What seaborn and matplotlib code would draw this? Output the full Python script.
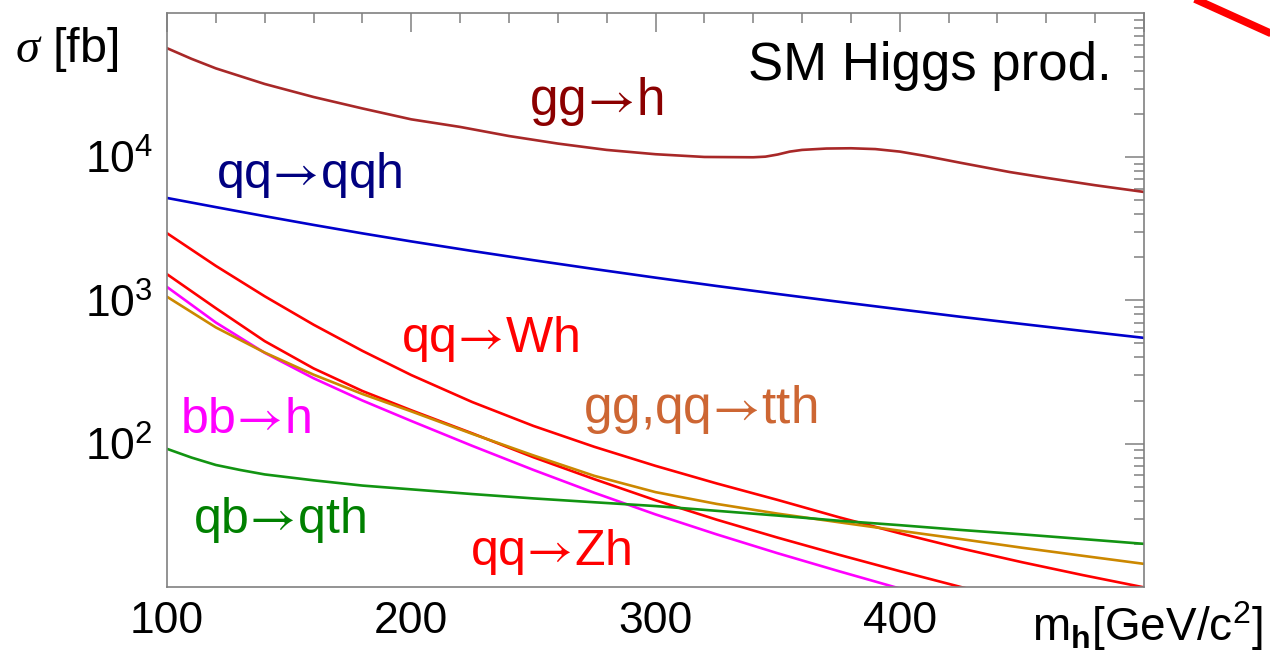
import numpy as np
import pandas as pd
import matplotlib
matplotlib.use("Agg")
import matplotlib.pyplot as plt
import matplotlib.ticker as mticker
from matplotlib.lines import Line2D
import seaborn as sns

# ---------------- data ----------------
mass_ggh = [100, 110, 120, 140, 160, 180, 200, 220, 240, 260, 280, 300, 320, 340, 345, 350,
            355, 360, 370, 380, 390, 400, 410, 425, 445, 460, 480, 500]
xs_ggh = [57400, 48400, 41500, 32300, 26200, 21800, 18300, 16200, 14000, 12400, 11200, 10450,
          10000, 9950, 10050, 10400, 10900, 11200, 11450, 11500, 11350, 10900, 10200, 9100,
          7850, 7150, 6350, 5700]

mass_std = [100, 120, 140, 160, 180, 200, 225, 250, 275, 300, 325, 350, 375, 400, 425, 450, 475, 500]
xs_qqh = [5176, 4467, 3864, 3357, 2931, 2576, 2208, 1905, 1652, 1439, 1259, 1107, 977, 865, 767, 684, 611, 547]
xs_wh = [2938, 1738, 1067, 676, 444, 301, 195, 133, 95, 70, 52.8, 40.5, 30.7, 23.7, 18.6, 14.9, 12.1, 9.94]
xs_zh = [1521, 881, 519, 335, 233, 171, 118, 80.4, 56.5, 40.3, 29.5, 22.1, 16.8, 12.9, 10.0, 7.85, 6.24, 5.01]
xs_bbh = [1239, 700, 430, 286, 200, 144, 96.5, 65.6, 45.4, 32.1, 23.3, 17.2, 12.9, 9.76, 7.49, 5.89, 4.68, 3.76]
xs_tth = [1059, 647, 432, 303, 222, 168, 117, 82.8, 59.6, 45.9, 38.0, 32.5, 28.3, 24.7, 21.6, 18.8, 16.5, 14.5]

mass_qth = [100, 110, 120, 130, 140, 160, 180, 200, 225, 250, 275, 300, 325, 350, 375, 400, 425, 450, 475, 500]
xs_qth = [92, 80, 71, 65.5, 61, 55.5, 51, 48, 44.5, 41.5, 39, 36.7, 34, 31.5, 29, 27, 25, 23.3, 21.6, 20]

processes = ["gg→h", "qq→qqh", "qq→Wh", "qq→Zh", "bb→h", "gg,qq→tth", "qb→qth"]
line_colors = ["#a82828", "#0000cc", "#ff0000", "#ff0000", "#ff00ff", "#cc8800", "#129412"]
label_colors = ["#8b0000", "#000080", "#ff0000", "#ff0000", "#ff00ff", "#cd6633", "#008000"]

xtick_vals = [100, 200, 300, 400, 500]
xtick_labels = ["100", "200", "300", "400", ""]
ytick_vals = [1e2, 1e3, 1e4]
ytick_labels = [r"$\mathregular{10^{2}}$", r"$\mathregular{10^{3}}$", r"$\mathregular{10^{4}}$"]

# ---------------- build table ----------------
series = [
    (processes[0], mass_ggh, xs_ggh),
    (processes[1], mass_std, xs_qqh),
    (processes[2], mass_std, xs_wh),
    (processes[3], mass_std, xs_zh),
    (processes[4], mass_std, xs_bbh),
    (processes[5], mass_std, xs_tth),
    (processes[6], mass_qth, xs_qth),
]
frames = [pd.DataFrame({"mh": m, "sigma": s, "process": p}) for p, m, s in series]
df = pd.concat(frames, ignore_index=True)

# ---------------- style ----------------
sns.set_theme(style="white")
plt.rcParams["font.family"] = ["Liberation Sans", "DejaVu Sans"]
plt.rcParams["text.color"] = "black"
plt.rcParams["axes.labelcolor"] = "black"
plt.rcParams["mathtext.fontset"] = "custom"
plt.rcParams["mathtext.rm"] = "STIXGeneral"
plt.rcParams["mathtext.bf"] = "Liberation Sans:bold"
plt.rcParams["mathtext.it"] = "Liberation Serif:italic"

W, H = 1270, 652
fig = plt.figure(figsize=(W / 100, H / 100), dpi=100)
ax = fig.add_axes([167 / W, 1 - 587 / H, (1144 - 167) / W, (587 - 13) / H])

palette = dict(zip(processes, line_colors))
sns.lineplot(data=df, x="mh", y="sigma", hue="process", palette=palette,
             legend=False, ax=ax, linewidth=1.9, estimator=None, sort=True)

ax.set_yscale("log")
ax.set_xlim(100, 500)
ax.set_ylim(10, 1.01e5)

ax.set_xticks(xtick_vals)
ax.set_xticklabels(xtick_labels)
ax.xaxis.set_minor_locator(mticker.MultipleLocator(20))
ax.set_yticks(ytick_vals)
ax.set_yticklabels(ytick_labels)
ax.yaxis.set_minor_locator(mticker.LogLocator(base=10, subs=np.arange(2, 10), numticks=50))
ax.yaxis.set_minor_formatter(mticker.NullFormatter())

ax.tick_params(which="both", direction="in", top=True, right=True, color="#808080",
               labelcolor="black", width=1.1, labelsize=32)
ax.tick_params(which="major", length=14)
ax.tick_params(which="minor", length=7)
ax.tick_params(axis="x", which="major", pad=10)
ax.tick_params(axis="y", which="major", pad=10)
for sp in ax.spines.values():
    sp.set_color("#808080")
    sp.set_linewidth(1.2)
ax.set_xlabel("")
ax.set_ylabel("")

# ---------------- labels ----------------
label_pos = {
    "gg→h": (275.6, 19600, 37),
    "qq→qqh": (158.1, 6080, 36),
    "qq→Wh": (232.2, 436, 36),
    "qq→Zh": (257.2, 14.2, 36),
    "bb→h": (132.3, 118.6, 36),
    "gg,qq→tth": (318.2, 139, 37),
    "qb→qth": (145.9, 23.8, 36),
}
for p, c in zip(processes, label_colors):
    x, y, fs = label_pos[p]
    txt = p.replace("→", r"$\!\rightarrow\!$")
    ax.text(x, y, txt, color=c, fontsize=fs, ha="center", va="baseline")

ax.text(486.9, 34400, "SM Higgs prod.", color="black", fontsize=38, ha="right", va="baseline")

fig.text(15 / W, 1 - 62 / H, r"$\sigma$ [fb]", fontsize=35, ha="left", va="baseline")
fig.text(1263 / W, 1 - 641 / H, r"$\mathregular{m_{\mathbf{h}}[GeV/c^{2}]}$", fontsize=33,
         ha="right", va="baseline")

# decorative red stroke in the top-right corner
fig.add_artist(Line2D([1190 / W, 1285 / W], [1 + 3.2 / H, 1 - 39.8 / H],
                      transform=fig.transFigure, color="#ff0000", linewidth=5.5,
                      solid_capstyle="butt"))

fig.savefig("out.png", dpi=100)
